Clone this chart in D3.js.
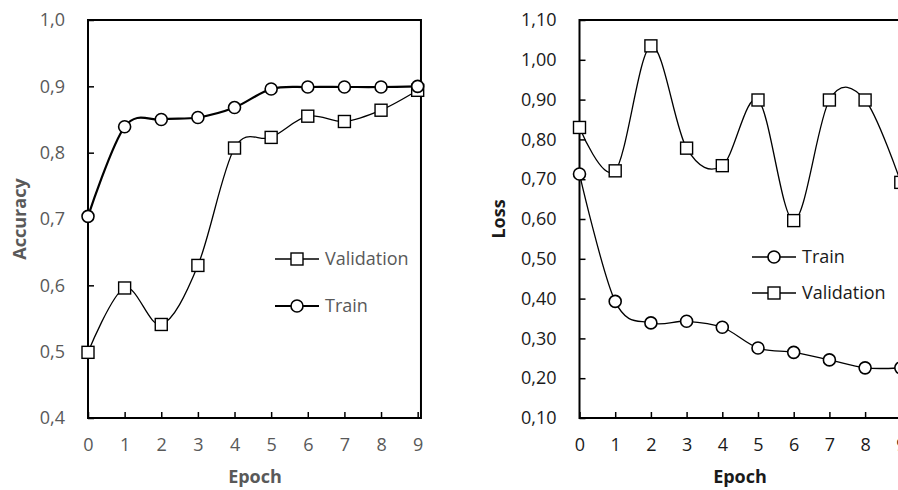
<!DOCTYPE html>
<html>
<head>
<meta charset="utf-8">
<script src="https://cdn.jsdelivr.net/npm/d3@7"></script>
<style>
  body { margin: 0; background: #fff; }
  svg { display: block; font-family: "Open Sans", sans-serif; }
</style>
</head>
<body>
<svg id="chart" width="898" height="490"></svg>
<script>
// data
var epochs = [0, 1, 2, 3, 4, 5, 6, 7, 8, 9];
var accTrain = [0.704, 0.839, 0.850, 0.853, 0.868, 0.896, 0.899, 0.899, 0.899, 0.900];
var accVal   = [0.499, 0.596, 0.541, 0.630, 0.807, 0.823, 0.855, 0.847, 0.864, 0.894];
var lossTrain = [0.713, 0.393, 0.339, 0.343, 0.328, 0.276, 0.265, 0.246, 0.226, 0.226];
var lossVal   = [0.830, 0.721, 1.035, 0.778, 0.734, 0.899, 0.596, 0.899, 0.899, 0.692];
var accTicks  = [0.4, 0.5, 0.6, 0.7, 0.8, 0.9, 1.0];
var lossTicks = [0.1, 0.2, 0.3, 0.4, 0.5, 0.6, 0.7, 0.8, 0.9, 1.0, 1.1];

var svg = d3.select('#chart');

function drawPanel(p) {
    var x = d3.scaleLinear().domain([0, 9.09]).range([p.left, p.left + p.step * 9.09]);
    var y = d3.scaleLinear().domain(p.yDomain).range([418, 20]);
    var g = svg.append('g');

    // x axis, ticks pointing inside
    var xAxis = g.append('g')
        .attr('transform', 'translate(0,418)')
        .call(d3.axisBottom(x).tickValues(epochs).tickSizeInner(-6).tickSizeOuter(0).tickPadding(20));
    xAxis.select('.domain').remove();
    xAxis.selectAll('line').attr('stroke', '#000').attr('stroke-width', 1.5);
    xAxis.selectAll('text').attr('font-size', 18).attr('fill', p.textColor).attr('font-family', '"Open Sans", sans-serif');

    var yAxis = g.append('g')
        .attr('transform', 'translate(' + p.left + ',0)')
        .call(d3.axisLeft(y).tickValues(p.yTicks).tickSizeInner(-6).tickSizeOuter(0).tickPadding(23)
            .tickFormat(function(d) { return d3.format(p.fmt)(d).replace('.', ','); }));
    yAxis.select('.domain').remove();
    yAxis.selectAll('line').attr('stroke', '#000').attr('stroke-width', 1.5);
    yAxis.selectAll('text').attr('font-size', 18).attr('fill', p.textColor).attr('font-family', '"Open Sans", sans-serif');

    // plot frame
    g.append('rect')
        .attr('x', x(0)).attr('y', 20)
        .attr('width', x(9.09) - x(0)).attr('height', 398)
        .attr('fill', 'none').attr('stroke', '#000').attr('stroke-width', 2);

    g.append('text')
        .attr('transform', 'translate(' + p.yLabelX + ',219) rotate(-90)')
        .attr('text-anchor', 'middle')
        .attr('font-size', 18).attr('font-weight', 'bold')
        .attr('fill', p.textColor)
        .text(p.yLabel);

    g.append('text')
        .attr('x', p.epochX).attr('y', 483)
        .attr('text-anchor', 'middle')
        .attr('font-size', 18).attr('font-weight', 'bold')
        .attr('fill', p.textColor)
        .text('Epoch');

    var line = d3.line()
        .x(function(d, i) { return x(epochs[i]); })
        .y(function(d) { return y(d); })
        .curve(d3.curveCatmullRom.alpha(0));

    p.series.forEach(function(s) {
        g.append('path')
            .datum(s.values)
            .attr('d', line)
            .attr('fill', 'none')
            .attr('stroke', '#000')
            .attr('stroke-width', s.width);
        drawMarkers(g, s, s.values.map(function(v, i) { return [x(epochs[i]), y(v)]; }));
    });

    // legend
    p.legend.forEach(function(s, k) {
        var ly = p.legendY[k];
        g.append('line')
            .attr('x1', p.legendX).attr('x2', p.legendX + 44)
            .attr('y1', ly).attr('y2', ly)
            .attr('stroke', '#000').attr('stroke-width', s.width);
        drawMarkers(g, s, [[p.legendX + 22, ly]]);
        g.append('text')
            .attr('x', p.legendX + 50).attr('y', ly)
            .attr('dy', '0.35em')
            .attr('font-size', 18)
            .attr('fill', p.textColor)
            .text(s.name);
    });
}

function drawMarkers(g, s, pts) {
    if (s.shape == 'circle') {
        g.selectAll(null).data(pts).enter().append('circle')
            .attr('cx', function(d) { return d[0]; })
            .attr('cy', function(d) { return d[1]; })
            .attr('r', 6)
            .attr('fill', '#fff').attr('stroke', '#000').attr('stroke-width', 1.6);
    } else {
        g.selectAll(null).data(pts).enter().append('rect')
            .attr('x', function(d) { return d[0] - 6; })
            .attr('y', function(d) { return d[1] - 6; })
            .attr('width', 12).attr('height', 12)
            .attr('fill', '#fff').attr('stroke', '#000').attr('stroke-width', 1.4);
    }
}

var accValS = { name: 'Validation', values: accVal, shape: 'square', width: 1.3 };
var accTrainS = { name: 'Train', values: accTrain, shape: 'circle', width: 2.2 };
var lossTrainS = { name: 'Train', values: lossTrain, shape: 'circle', width: 1.3 };
var lossValS = { name: 'Validation', values: lossVal, shape: 'square', width: 1.3 };

drawPanel({
    left: 88, step: 36.63,
    yDomain: [0.4, 1.0], yTicks: accTicks, fmt: '.1f',
    textColor: '#595959',
    yLabel: 'Accuracy', yLabelX: 26, epochX: 255,
    series: [accValS, accTrainS],
    legend: [accValS, accTrainS], legendX: 275, legendY: [259, 306]
});

drawPanel({
    left: 579.5, step: 35.7,
    yDomain: [0.1, 1.1], yTicks: lossTicks, fmt: '.2f',
    textColor: '#1a1a1a',
    yLabel: 'Loss', yLabelX: 505, epochX: 740,
    series: [lossValS, lossTrainS],
    legend: [lossTrainS, lossValS], legendX: 752, legendY: [257, 293]
});
</script>
</body>
</html>
